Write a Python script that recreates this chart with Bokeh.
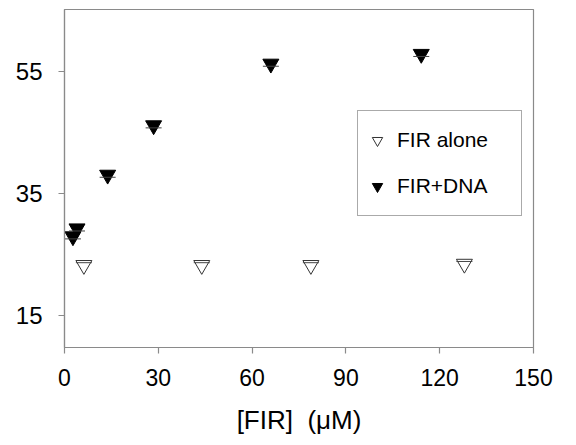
from bokeh.plotting import figure
from bokeh.models import Range1d, FixedTicker, Legend, LegendItem
from bokeh.embed import file_html
from bokeh.resources import INLINE

# ---- data ----
x_alone = [6.2, 43.9, 78.8, 127.9]
y_alone = [23.3, 23.3, 23.3, 23.5]
err_alone = [0.4, 0.4, 0.4, 0.4]

x_dna = [2.7, 4.0, 13.8, 28.5, 66.0, 114.1]
y_dna = [28.0, 29.3, 38.1, 46.2, 56.3, 57.9]
err_dna = [0.4, 0.4, 0.4, 0.4, 0.4, 0.4]

x_ticks = [0, 30, 60, 90, 120, 150]
y_ticks = [15, 35, 55]
series_labels = ["FIR alone", "FIR+DNA"]
x_label = "[FIR]\u00a0\u00a0(\u03bcM)"

FONT = "Liberation Sans"
GRAY = "#8a8a8a"

p = figure(width=568, height=437, output_backend="svg", toolbar_location=None,
           x_range=Range1d(0, 150), y_range=Range1d(9.8, 65.2),
           min_border_left=64, min_border_right=35, min_border_top=9, min_border_bottom=90)
p.background_fill_color = "white"
p.border_fill_color = "white"
p.outline_line_color = GRAY
p.outline_line_width = 1.2
p.grid.visible = False

for ax in (p.xaxis[0], p.yaxis[0]):
    ax.axis_line_color = GRAY
    ax.axis_line_width = 1.2
    ax.major_tick_line_color = GRAY
    ax.major_tick_line_width = 1.2
    ax.major_tick_out = 6
    ax.major_tick_in = 0
    ax.minor_tick_line_color = None
    ax.major_label_text_font = FONT
    ax.major_label_text_font_size = "23px"
    ax.major_label_text_color = "black"

p.xaxis.ticker = FixedTicker(ticks=x_ticks)
p.yaxis.ticker = FixedTicker(ticks=y_ticks)
p.yaxis.major_label_text_font_size = "24px"
p.xaxis.major_label_standoff = 15
p.yaxis.major_label_standoff = 16
p.xaxis.axis_label = x_label
p.xaxis.axis_label_text_font = FONT
p.xaxis.axis_label_text_font_style = "normal"
p.xaxis.axis_label_text_font_size = "26px"
p.xaxis.axis_label_text_color = "black"
p.xaxis.axis_label_standoff = 16

# error caps
ya_up = [y + e for y, e in zip(y_alone, err_alone)]
yd_lo = [y - e for y, e in zip(y_dna, err_dna)]

r_alone = p.scatter(x_alone, y_alone, marker="inverted_triangle", size=16,
                    fill_color="white", line_color="#333333", line_width=1)
r_dna = p.scatter(x_dna, y_dna, marker="inverted_triangle", size=16,
                  fill_color="black", line_color="black", line_width=1)
p.scatter(x_alone, ya_up, marker="dash", size=16, line_color="#444444", line_width=1)
p.scatter(x_dna, yd_lo, marker="dash", size=16, line_color="#444444", line_width=1)

legend = Legend(items=[LegendItem(label=series_labels[0], renderers=[r_alone]),
                       LegendItem(label=series_labels[1], renderers=[r_dna])],
                location=(293, 131))
legend.padding = 6
legend.margin = 0
legend.glyph_width = 26
legend.glyph_height = 46
legend.label_height = 46
legend.spacing = 0
legend.label_standoff = 7
legend.label_width = 118
legend.label_text_font = FONT
legend.label_text_font_size = "21px"
legend.label_text_color = "black"
legend.border_line_color = "#555555"
legend.border_line_width = 1
legend.background_fill_color = "white"
legend.background_fill_alpha = 1
p.add_layout(legend)

open("out.html", "w").write(file_html(p, INLINE))
